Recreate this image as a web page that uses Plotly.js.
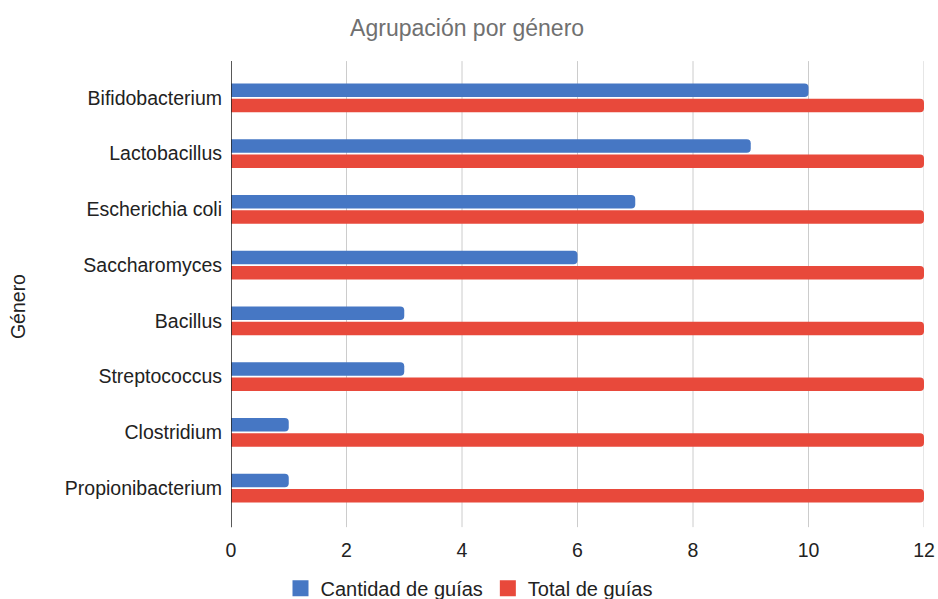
<!DOCTYPE html>
<html><head><meta charset="utf-8">
<script src="https://cdn.plot.ly/plotly-3.0.1.min.js"></script>
<style>html,body{margin:0;padding:0;background:#fff}#chart{width:938px;height:599px}</style>
</head><body><div id="chart"></div>
<script>
const categories = ["Bifidobacterium","Lactobacillus","Escherichia coli","Saccharomyces","Bacillus","Streptococcus","Clostridium","Propionibacterium"];
const cantidad = [10, 9, 7, 6, 3, 3, 1, 1];
const total = [12, 12, 12, 12, 12, 12, 12, 12];
const seriesNames = ["Cantidad de guías", "Total de guías"];
const seriesColors = ["#4677c4", "#e8493b"];
const xTicks = [0, 2, 4, 6, 8, 10, 12];

const fam = "Liberation Sans, Arial, sans-serif";
const data = [
  {type: "bar", orientation: "h", name: seriesNames[0], y: categories, x: cantidad,
   marker: {color: seriesColors[0]}, showlegend: false},
  {type: "bar", orientation: "h", name: seriesNames[1], y: categories, x: total,
   marker: {color: seriesColors[1]}, showlegend: false},
  {type: "scatter", mode: "markers", name: seriesNames[0], x: [null], y: [null],
   marker: {symbol: "square", size: 16, color: seriesColors[0]}, showlegend: true},
  {type: "scatter", mode: "markers", name: seriesNames[1], x: [null], y: [null],
   marker: {symbol: "square", size: 16, color: seriesColors[1]}, showlegend: true}
];
const gridShapes = xTicks.slice(1).map(v => ({type: "line", xref: "x", yref: "paper", x0: v, x1: v, y0: -0.025, y1: 1.02,
  line: {color: "#cccccc", width: 1}, layer: "below"}));
const layout = {
  width: 938, height: 599,
  margin: {l: 231, r: 14, t: 70, b: 83, autoexpand: false},
  paper_bgcolor: "#fff", plot_bgcolor: "#fff",
  font: {family: fam, size: 19.5, color: "#222"},
  title: {text: "Agrupación por género", font: {family: fam, size: 23, color: "#707070"}, x: 0.498, xanchor: "center", y: 0.953, yanchor: "middle"},
  barmode: "group", bargap: 0.45, bargroupgap: 0.12, barcornerradius: 4,
  xaxis: {range: [0, 12], tickvals: xTicks, ticktext: xTicks.map(String), showgrid: false,
          zeroline: false, showline: false, ticks: "", ticklabelstandoff: 20, tickfont: {size: 19.5, color: "#222"}, fixedrange: true},
  yaxis: {autorange: "reversed", showgrid: false, zeroline: false, showline: false, ticks: "", ticklabelstandoff: 8,
          tickfont: {size: 19.5, color: "#222"}},
  shapes: gridShapes.concat([
    {type: "line", xref: "x", yref: "paper", x0: 0, x1: 0, y0: -0.025, y1: 1.02, line: {color: "#222", width: 1.5}}
  ]),
  annotations: [{text: "Género", xref: "paper", yref: "paper", x: -0.307, y: 0.469, xanchor: "center", yanchor: "middle",
                 textangle: -90, showarrow: false, font: {family: fam, size: 19.5, color: "#222"}}],
  legend: {orientation: "h", xref: "container", yref: "container", x: 0.5, xanchor: "center", y: 0.018, yanchor: "middle",
           font: {size: 20, color: "#222"}, traceorder: "normal", itemwidth: 30},
  showlegend: true
};
Plotly.newPlot("chart", data, layout, {displayModeBar: false, staticPlot: true});
</script></body></html>
